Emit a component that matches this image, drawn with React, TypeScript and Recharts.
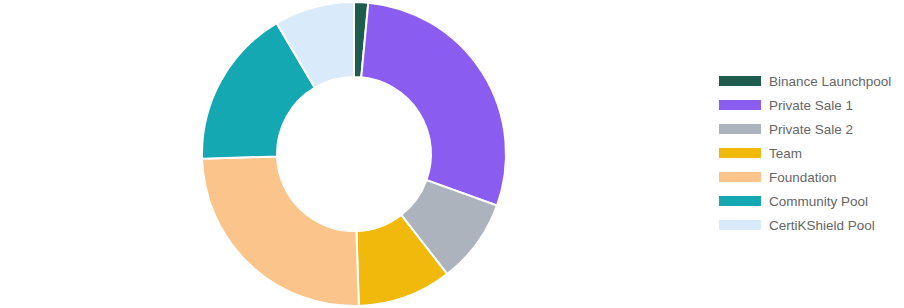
import { PieChart, Pie, Cell, Legend } from "recharts";

const labels = [
  "Binance Launchpool",
  "Private Sale 1",
  "Private Sale 2",
  "Team",
  "Foundation",
  "Community Pool",
  "CertiKShield Pool",
];
const shares = [1.5, 29, 9, 10, 25, 17, 8.5];
const colors = ["#1e5c4e", "#8b5cf0", "#adb3bc", "#f0b90b", "#fbc48b", "#14a8b3", "#d9eafa"];

const data = labels.map((name, i) => ({ name, value: shares[i] }));

function LegendList() {
  return (
    <div style={{ fontFamily: "'Liberation Sans', Arial, sans-serif", fontSize: 13.5, color: "#666" }}>
      {labels.map((name, i) => (
        <div key={name} style={{ display: "flex", alignItems: "center", height: 24 }}>
          <span
            style={{ display: "inline-block", width: 42, height: 10, background: colors[i], marginRight: 8 }}
          />
          <span>{name}</span>
        </div>
      ))}
    </div>
  );
}

export default function App() {
  return (
    <div style={{ position: "absolute", left: 0, top: 0, width: 904, height: 308, background: "#fff" }}>
      <PieChart width={904} height={308} margin={{ top: 0, right: 0, bottom: 0, left: 0 }}>
        <Pie
          data={data}
          dataKey="value"
          nameKey="name"
          cx={354}
          cy={154}
          innerRadius={77}
          outerRadius={152}
          startAngle={90}
          endAngle={-270}
          stroke="#fff"
          strokeWidth={2}
          isAnimationActive={false}
        >
          {data.map((d, i) => (
            <Cell key={d.name} fill={colors[i]} />
          ))}
        </Pie>
        <Legend
          content={<LegendList />}
          wrapperStyle={{ left: 719, top: 69, width: 185, bottom: "auto", right: "auto" }}
        />
      </PieChart>
    </div>
  );
}
